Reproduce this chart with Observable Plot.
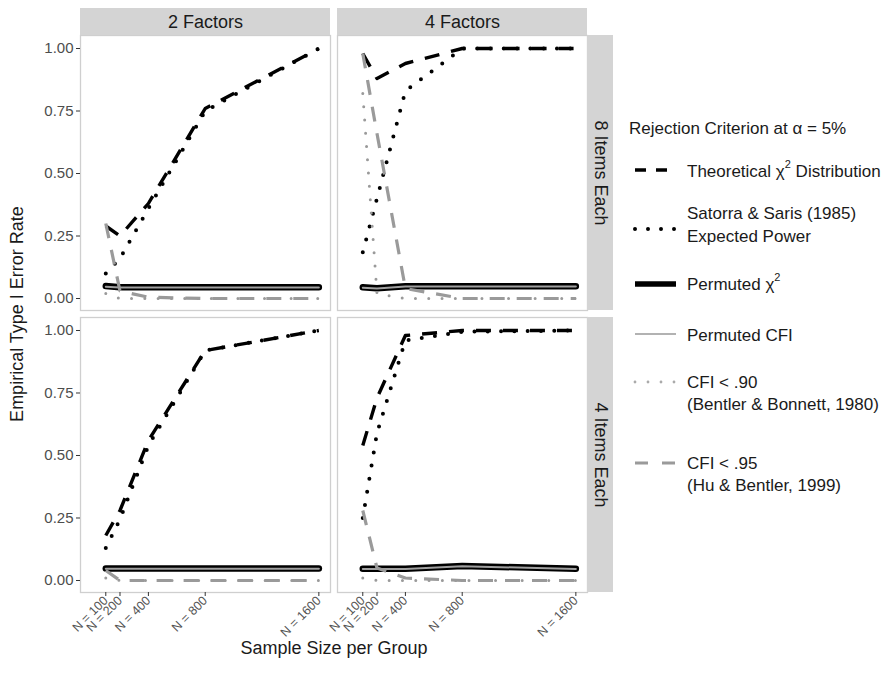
<!DOCTYPE html>
<html>
<head>
<meta charset="utf-8">
<script src="https://cdn.jsdelivr.net/npm/d3@7"></script>
<script src="https://cdn.jsdelivr.net/npm/@observablehq/plot@0.6"></script>
<style>
  body { margin: 0; background: #fff; }
  #chart svg { font-family: "Liberation Sans", Arial, sans-serif; }
</style>
</head>
<body>
<div id="chart"></div>
<script>
// ---------- data ----------
const sampleSizes = [100, 200, 400, 800, 1600];
const factorLevels = ["2 Factors", "4 Factors"];
const itemLevels = ["8 Items Each", "4 Items Each"];
const tickLabels = ["N = 100", "N = 200", "N = 400", "N = 800", "N = 1600"];
const yTicks = [0, 0.25, 0.5, 0.75, 1];

// Theoretical chi-square distribution
const theoretical_2F_8I = [0.29, 0.25, 0.38, 0.76, 1.00];
const theoretical_4F_8I = [0.98, 0.88, 0.94, 1.00, 1.00];
const theoretical_2F_4I = [0.18, 0.28, 0.56, 0.92, 1.00];
const theoretical_4F_4I = [0.54, 0.73, 0.98, 1.00, 1.00];
// Satorra & Saris (1985) expected power
const satorra_2F_8I = [0.10, 0.16, 0.36, 0.75, 1.00];
const satorra_4F_8I = [0.185, 0.40, 0.83, 1.00, 1.00];
const satorra_2F_4I = [0.13, 0.245, 0.54, 0.92, 1.00];
const satorra_4F_4I = [0.25, 0.59, 0.96, 0.995, 1.00];
// Permuted chi-square
const permChi_2F_8I = [0.050, 0.045, 0.045, 0.045, 0.045];
const permChi_4F_8I = [0.045, 0.041, 0.049, 0.049, 0.049];
const permChi_2F_4I = [0.048, 0.048, 0.048, 0.048, 0.048];
const permChi_4F_4I = [0.047, 0.047, 0.047, 0.058, 0.047];
// Permuted CFI
const permCFI_2F_8I = [0.047, 0.044, 0.044, 0.044, 0.044];
const permCFI_4F_8I = [0.043, 0.040, 0.048, 0.048, 0.048];
const permCFI_2F_4I = [0.047, 0.047, 0.047, 0.047, 0.047];
const permCFI_4F_4I = [0.046, 0.046, 0.046, 0.057, 0.046];
// CFI < .90
const cfi90_2F_8I = [0.02, 0.00, 0.00, 0.00, 0.00];
const cfi90_4F_8I = [0.82, 0.02, 0.00, 0.00, 0.00];
const cfi90_2F_4I = [0.01, 0.00, 0.00, 0.00, 0.00];
const cfi90_4F_4I = [0.01, 0.00, 0.00, 0.00, 0.00];
// CFI < .95
const cfi95_2F_8I = [0.30, 0.03, 0.005, 0.00, 0.00];
const cfi95_4F_8I = [0.98, 0.66, 0.04, 0.00, 0.00];
const cfi95_2F_4I = [0.04, 0.00, 0.00, 0.00, 0.00];
const cfi95_4F_4I = [0.28, 0.05, 0.01, 0.00, 0.00];

const seriesNames = ["Theoretical", "Satorra", "PermChi", "PermCFI", "CFI90", "CFI95"];
const seriesArrays = {
  Theoretical: [theoretical_2F_8I, theoretical_4F_8I, theoretical_2F_4I, theoretical_4F_4I],
  Satorra: [satorra_2F_8I, satorra_4F_8I, satorra_2F_4I, satorra_4F_4I],
  PermChi: [permChi_2F_8I, permChi_4F_8I, permChi_2F_4I, permChi_4F_4I],
  PermCFI: [permCFI_2F_8I, permCFI_4F_8I, permCFI_2F_4I, permCFI_4F_4I],
  CFI90: [cfi90_2F_8I, cfi90_4F_8I, cfi90_2F_4I, cfi90_4F_4I],
  CFI95: [cfi95_2F_8I, cfi95_4F_8I, cfi95_2F_4I, cfi95_4F_4I]
};
const panelOrder = [
  ["2 Factors", "8 Items Each"], ["4 Factors", "8 Items Each"],
  ["2 Factors", "4 Items Each"], ["4 Factors", "4 Items Each"]
];

const rows = [];
for (const s of seriesNames) {
  seriesArrays[s].forEach((arr, p) => {
    arr.forEach((v, i) => rows.push({series: s, n: sampleSizes[i], value: v,
      factors: panelOrder[p][0], items: panelOrder[p][1]}));
  });
}
const of = (s) => rows.filter(d => d.series === s);

// ---------- scales ----------
const xDomain = [-78, 1682];
const yDomain = [-0.048, 1.052];
const topStrips = factorLevels.map(f => ({factors: f, items: itemLevels[0]}));
const rightStrips = itemLevels.map(it => ({factors: factorLevels[1], items: it}));
const pxX = (xDomain[1] - xDomain[0]) / 250;  // data units per px
const pxY = (yDomain[1] - yDomain[0]) / 275;

const common = {x: "n", y: "value", fx: "factors", fy: "items"};
const grey = "#9a9a9a";

const svg = Plot.plot({
  width: 896,
  height: 683,
  marginTop: 35,
  marginRight: 309,
  marginBottom: 91,
  marginLeft: 80,
  x: {domain: xDomain},
  y: {domain: yDomain},
  fx: {domain: factorLevels, paddingInner: 0.0272, paddingOuter: 0, round: false, axis: null, label: null},
  fy: {domain: itemLevels, paddingInner: 0.0248, paddingOuter: 0, round: false, axis: null, label: null},
  marks: [
    Plot.frame({stroke: "#cfcfcf", strokeWidth: 1.3}),
    // strips
    Plot.rect(topStrips, {x1: () => xDomain[0], x2: () => xDomain[1],
      y1: () => yDomain[1], y2: () => yDomain[1] + 27 * pxY,
      fx: "factors", fy: "items", fill: "#d4d4d4"}),
    Plot.text(topStrips, {x: () => (xDomain[0] + xDomain[1]) / 2, y: () => yDomain[1] + 13.5 * pxY,
      text: "factors", fx: "factors", fy: "items", fontSize: 18, fill: "#1a1a1a"}),
    Plot.rect(rightStrips, {x1: () => xDomain[1], x2: () => xDomain[1] + 26 * pxX,
      y1: () => yDomain[0], y2: () => yDomain[1],
      fx: "factors", fy: "items", fill: "#d4d4d4"}),
    Plot.text(rightStrips, {x: () => xDomain[1] + 13 * pxX, y: () => (yDomain[0] + yDomain[1]) / 2,
      text: "items", rotate: 90, fx: "factors", fy: "items", fontSize: 18, fill: "#1a1a1a"}),
    // axes
    Plot.axisY({ticks: yTicks, tickFormat: d3.format(".2f"), tickSize: 4, tickPadding: 3,
      fontSize: 15, stroke: "#333", fill: "#4d4d4d", label: null, facetAnchor: "left"}),
    Plot.axisX({ticks: sampleSizes, tickFormat: (d) => tickLabels[sampleSizes.indexOf(d)],
      tickRotate: -45, tickSize: 4, tickPadding: 2, fontSize: 12.5,
      stroke: "#333", fill: "#555", label: null, facetAnchor: "bottom"}),
    // series
    Plot.line(of("Theoretical"), {...common, stroke: "black", strokeWidth: 3.4,
      strokeDasharray: "15,12", strokeLinecap: "butt"}),
    Plot.line(of("Satorra"), {...common, stroke: "black", strokeWidth: 4,
      strokeDasharray: "0,13.3", strokeLinecap: "round"}),
    Plot.line(of("PermChi"), {...common, stroke: "black", strokeWidth: 6.5}),
    Plot.line(of("PermCFI"), {...common, stroke: "#a0a0a0", strokeWidth: 2}),
    Plot.line(of("CFI90"), {...common, stroke: grey, strokeWidth: 3,
      strokeDasharray: "0,13.3", strokeLinecap: "round"}),
    Plot.line(of("CFI95"), {...common, stroke: grey, strokeWidth: 3.2,
      strokeDasharray: "15,12", strokeLinecap: "butt"})
  ]
});

// ---------- titles & legend ----------
const s = d3.select(svg);
const font = "'Liberation Sans', Arial, sans-serif";
s.append("text").attr("transform", "translate(17,314) rotate(-90)")
  .attr("text-anchor", "middle").attr("dominant-baseline", "central")
  .attr("font-size", 18).attr("fill", "#1a1a1a").attr("font-family", font)
  .text("Empirical Type I Error Rate");
s.append("text").attr("x", 334).attr("y", 648)
  .attr("text-anchor", "middle").attr("dominant-baseline", "central")
  .attr("font-size", 18).attr("fill", "#1a1a1a").attr("font-family", font)
  .text("Sample Size per Group");

const lg = s.append("g").attr("font-family", font).attr("fill", "#1a1a1a")
  .attr("font-size", 17).attr("text-anchor", "start");
lg.append("text").attr("x", 629).attr("y", 128).attr("dominant-baseline", "central")
  .attr("text-anchor", "start").text("Rejection Criterion at α = 5%");

function addLabel(y, parts) {
  const t = lg.append("text").attr("x", 687).attr("y", y)
    .attr("text-anchor", "start").attr("dominant-baseline", "central");
  parts.forEach(p => {
    if (p.sup) t.append("tspan").attr("font-size", 11).attr("dy", -7).text(p.sup);
    else if (p.after) t.append("tspan").attr("dy", 7).text(p.after);
    else t.append("tspan").text(p.t);
  });
  return t;
}
const key = (y, attrs) => {
  const l = lg.append("line").attr("x1", 635).attr("x2", 676).attr("y1", y).attr("y2", y);
  Object.entries(attrs).forEach(([k, v]) => l.attr(k, v));
};
key(170, {stroke: "black", "stroke-width": 3.4, "stroke-dasharray": "11,10"});
addLabel(171, [{t: "Theoretical χ"}, {sup: "2"}, {after: " Distribution"}]);
key(229, {stroke: "black", "stroke-width": 4, "stroke-dasharray": "0,13", "stroke-linecap": "round"});
addLabel(213, [{t: "Satorra & Saris (1985)"}]);
addLabel(236, [{t: "Expected Power"}]);
key(284, {stroke: "black", "stroke-width": 5.5});
addLabel(284, [{t: "Permuted χ"}, {sup: "2"}]);
key(334, {stroke: "#999", "stroke-width": 1.3});
addLabel(335, [{t: "Permuted CFI"}]);
key(382, {stroke: "#aaa", "stroke-width": 2.8, "stroke-dasharray": "0,13", "stroke-linecap": "round"});
addLabel(382, [{t: "CFI < .90"}]);
addLabel(404, [{t: "(Bentler & Bonnett, 1980)"}]);
key(463, {stroke: grey, "stroke-width": 3.2, "stroke-dasharray": "13,14"});
addLabel(463, [{t: "CFI < .95"}]);
addLabel(485, [{t: "(Hu & Bentler, 1999)"}]);

document.getElementById("chart").appendChild(svg);
</script>
</body>
</html>
